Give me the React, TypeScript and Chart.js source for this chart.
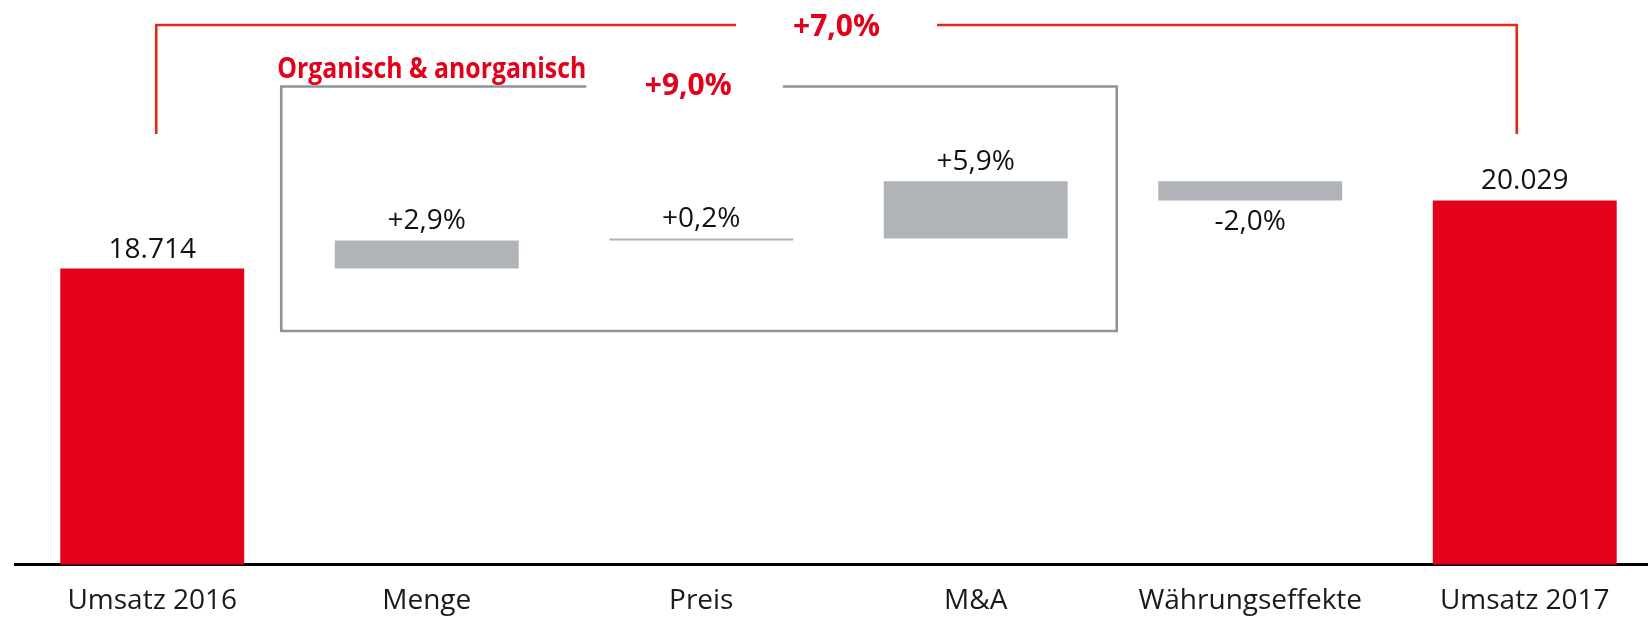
import React, { useEffect, useRef } from "react";
import { Chart, registerables } from "chart.js";

Chart.register(...registerables);

// ---- Data ----
const categories = ["Umsatz 2016", "Menge", "Preis", "M&A", "Währungseffekte", "Umsatz 2017"];
const startValue = 18714;
const endValue = 20029;
const stepDeltas = [543, 37, 1104, -369];
const valueLabels = ["18.714", "+2,9%", "+0,2%", "+5,9%", "-2,0%", "20.029"];
const barColors = ["#E2001A", "#B0B4B8", "#B0B4B8", "#B0B4B8", "#B0B4B8", "#E2001A"];
const totalChangeLabel = "+7,0%";
const groupChangeLabel = "+9,0%";
const groupTitle = "Organisch & anorganisch";
const yMin = 13000;
const yMax = 23900;

// Build waterfall series from values above
const barData: (number | [number, number])[] = [];
barData.push(startValue);
let running = startValue;
for (const d of stepDeltas) {
  barData.push([running, running + d]);
  running += d;
}
barData.push(endValue);

const FONT = '"Open Sans", "DejaVu Sans", sans-serif';

const valueLabelPlugin = {
  id: "valueLabels",
  afterDatasetsDraw(chart: any) {
    const ctx = chart.ctx;
    const meta = chart.getDatasetMeta(0);
    ctx.save();
    ctx.font = `28px ${FONT}`;
    ctx.fillStyle = "#111111";
    ctx.textAlign = "center";
    ctx.textBaseline = "alphabetic";
    meta.data.forEach((el: any, i: number) => {
      const { x, y, base } = el.getProps(["x", "y", "base"], true);
      const top = Math.min(y, base);
      const bottom = Math.max(y, base);
      const raw = barData[i];
      const negative = Array.isArray(raw) && raw[1] < raw[0];
      if (negative) ctx.fillText(valueLabels[i], x, bottom + 30);
      else ctx.fillText(valueLabels[i], x, top - 11);
    });
    ctx.restore();
  },
};

const bracketPlugin = {
  id: "brackets",
  afterDraw(chart: any) {
    const ctx = chart.ctx;
    const xs = chart.scales.x;
    const px = (i: number) => xs.getPixelForValue(i);
    ctx.save();

    // Total change bracket (red)
    const bTop = 25;
    const bBottom = 134;
    const bLeft = px(0) + 4;
    const bRight = px(5) - 8;
    const totalMid = (px(2) + px(3)) / 2 - 2;
    ctx.font = `bold 30px ${FONT}`;
    const tw = ctx.measureText(totalChangeLabel).width;
    const gapL = totalMid - tw / 2 - 57;
    const gapR = totalMid + tw / 2 + 57;
    ctx.strokeStyle = "#E4281C";
    ctx.lineWidth = 2.6;
    ctx.lineJoin = "miter";
    ctx.beginPath();
    ctx.moveTo(bLeft, bBottom);
    ctx.lineTo(bLeft, bTop);
    ctx.lineTo(gapL, bTop);
    ctx.moveTo(gapR, bTop);
    ctx.lineTo(bRight, bTop);
    ctx.lineTo(bRight, bBottom);
    ctx.stroke();
    ctx.fillStyle = "#E2001A";
    ctx.textAlign = "center";
    ctx.textBaseline = "alphabetic";
    ctx.fillText(totalChangeLabel, totalMid, 36);

    // Group box (gray)
    const gTop = 86.5;
    const gBottom = 331;
    const gLeft = px(1) - 145.5;
    const gRight = px(3) + 141;
    // title
    const titleLeft = gLeft - 4;
    const titleWidth = 309;
    ctx.font = `bold 28px ${FONT}`;
    const rawW = ctx.measureText(groupTitle).width;
    ctx.save();
    ctx.translate(titleLeft, 78);
    ctx.scale(titleWidth / rawW, 1);
    ctx.textAlign = "left";
    ctx.fillText(groupTitle, 0, 0);
    ctx.restore();
    // group change label
    const groupMid = px(2) - 13;
    ctx.font = `bold 30px ${FONT}`;
    ctx.textAlign = "center";
    ctx.fillText(groupChangeLabel, groupMid, 95);
    const gw = ctx.measureText(groupChangeLabel).width;
    const gapEnd = groupMid + gw / 2 + 51;

    ctx.strokeStyle = "#8C949C";
    ctx.lineWidth = 2.6;
    ctx.beginPath();
    ctx.moveTo(titleLeft + titleWidth, gTop);
    ctx.lineTo(gLeft, gTop);
    ctx.lineTo(gLeft, gBottom);
    ctx.lineTo(gRight, gBottom);
    ctx.lineTo(gRight, gTop);
    ctx.lineTo(gapEnd, gTop);
    ctx.stroke();

    ctx.restore();
  },
};

export default function App() {
  const canvasRef = useRef<HTMLCanvasElement | null>(null);

  useEffect(() => {
    if (!canvasRef.current) return;
    const chart = new Chart(canvasRef.current, {
      type: "bar",
      data: {
        labels: categories,
        datasets: [
          {
            data: barData as any,
            backgroundColor: barColors,
            borderWidth: 0,
            barPercentage: 0.67,
            categoryPercentage: 1,
          },
        ],
      },
      options: {
        animation: false,
        responsive: true,
        maintainAspectRatio: false,
        layout: { padding: { left: 15, right: 2, top: 0, bottom: 0 } },
        plugins: {
          legend: { display: false },
          tooltip: { enabled: false },
          title: { display: false },
        },
        scales: {
          x: {
            grid: { display: false, drawTicks: false },
            border: { display: true, color: "#000000", width: 3 },
            ticks: {
              color: "#1a1a1a",
              padding: 19.5,
              font: { family: FONT, size: 28 },
              maxRotation: 0,
              autoSkip: false,
            },
          },
          y: {
            display: false,
            min: yMin,
            max: yMax,
          },
        },
      },
      plugins: [valueLabelPlugin, bracketPlugin],
    });
    return () => chart.destroy();
  }, []);

  return (
    <div
      style={{
        position: "absolute",
        left: 0,
        top: 0,
        width: 1648,
        height: 617,
        overflow: "hidden",
        background: "#ffffff",
      }}
    >
      <div style={{ position: "relative", width: 1664, height: 637 }}>
        <canvas ref={canvasRef} />
      </div>
    </div>
  );
}
